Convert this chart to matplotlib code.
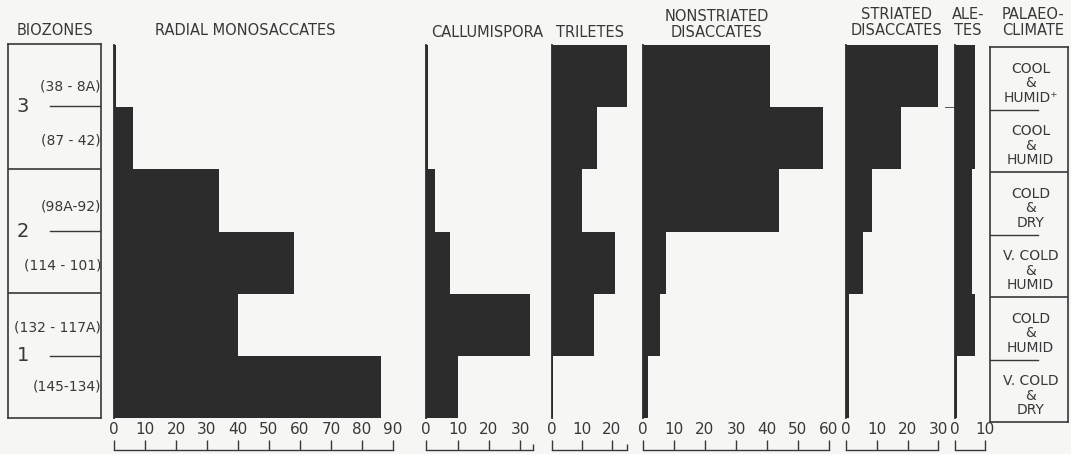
import matplotlib.pyplot as plt

# sample intervals, top (youngest) to bottom
intervals = ["(38 - 8A)", "(87 - 42)", "(98A-92)", "(114 - 101)", "(132 - 117A)", "(145-134)"]
biozones = ["3", "2", "1"]
climate = [
    "COOL\n&\nHUMID\u207a",
    "COOL\n&\nHUMID",
    "COLD\n&\nDRY",
    "V. COLD\n&\nHUMID",
    "COLD\n&\nHUMID",
    "V. COLD\n&\nDRY",
]

# percentages per interval
radial_monosaccates = [0.5, 6, 34, 58, 40, 86]
callumispora = [0.5, 0.5, 3, 7.5, 33, 10]
triletes = [26, 15, 10, 21, 14, 0.5]
nonstriated_disaccates = [41, 58, 44, 7.5, 5.5, 1.5]
striated_disaccates = [32, 18, 8.5, 5.5, 1, 1]
aletes = [6.5, 6.5, 5.5, 5.5, 6.5, 0.8]

panel_titles = [
    "RADIAL MONOSACCATES",
    "CALLUMISPORA",
    "TRILETES",
    "NONSTRIATED\nDISACCATES",
    "STRIATED\nDISACCATES",
    "ALE-\nTES",
]
panel_values = [radial_monosaccates, callumispora, triletes,
                nonstriated_disaccates, striated_disaccates, aletes]
scale_max = [90, 34, 25, 60, 30, 10]
scale_ticks = [list(range(0, 91, 10)), [0, 10, 20, 30], [0, 10, 20],
               list(range(0, 61, 10)), [0, 10, 20, 30], [0, 10]]

W, H = 1071, 454
BG = "#f6f6f4"
INK = "#383838"
BAR = "#2c2c2c"


def rect(left, top, width, height):
    return [left / W, 1 - (top + height) / H, width / W, height / H]


fig = plt.figure(figsize=(W / 100, H / 100), dpi=100, facecolor=BG)

# panel placement in pixels: left edge (zero) and pixels per unit
panel_left = [114, 426, 552, 643, 846, 955]
panel_scale = [3.1, 3.15, 3.0, 3.1, 3.08, 3.0]
title_x = [245, 487, 590, 717, 896, 968]
title_y = [38, 40, 40, 40, 38, 38]

top, bottom = 45, 418
rows = range(len(intervals))

for i, values in enumerate(panel_values):
    width = scale_max[i] * panel_scale[i]
    ax = fig.add_axes(rect(panel_left[i], top, width, bottom - top))
    ax.set_facecolor("none")
    ax.barh([r + 0.5 for r in rows], values, height=1.0, left=0,
            color=BAR, edgecolor="none")
    ax.set_xlim(0, scale_max[i])
    ax.set_ylim(len(intervals), 0)
    for side in ["top", "right"]:
        ax.spines[side].set_visible(False)
    ax.spines["left"].set_color(BAR)
    ax.spines["left"].set_linewidth(1.3)
    ax.spines["bottom"].set_position(("outward", 23))
    ax.spines["bottom"].set_color(INK)
    ax.spines["bottom"].set_linewidth(1.0)
    ax.spines["bottom"].set_bounds(0, scale_max[i])
    ax.set_yticks([])
    ax.set_xticks(scale_ticks[i])
    ax.set_xticklabels([str(t) for t in scale_ticks[i]])
    ax.tick_params(axis="x", direction="in", length=7, width=1.0,
                   color=INK, labelcolor=INK, labelsize=11, pad=-20)
    if scale_max[i] not in scale_ticks[i]:
        ax.set_xticks([scale_max[i]], minor=True)
        ax.tick_params(axis="x", which="minor", direction="in", length=4,
                       width=1.0, color=INK)
    fig.text(title_x[i] / W, 1 - title_y[i] / H, panel_titles[i],
             ha="center", va="bottom", fontsize=10.5, color=INK,
             linespacing=1.1)
    if i == 4:
        # boundary line running across to the aletes column
        ax.plot([values[0], (958 - panel_left[i]) / panel_scale[i]], [1, 1],
                color=INK, lw=0.6, clip_on=False)

# biozones column
bz = fig.add_axes(rect(8, 44, 93, 374))
bz.set_facecolor("none")
bz.set_xlim(0, 1)
bz.set_ylim(len(intervals), 0)
bz.set_xticks([])
bz.set_yticks([])
for s in bz.spines.values():
    s.set_color(INK)
    s.set_linewidth(1.2)
for j, zone in enumerate(biozones):
    mid = 2 * j + 1
    bz.plot([0.45, 1.0], [mid, mid], color=INK, lw=1.0)
    bz.text(0.16, mid, zone, ha="center", va="center", fontsize=14, color=INK)
    if j > 0:
        bz.axhline(2 * j, color=INK, lw=1.2)
label_offset = [0.68, 0.55, 0.6, 0.55, 0.55, 0.5]
for r, lab in enumerate(intervals):
    bz.text(1.0, r + label_offset[r], lab, ha="right", va="center",
            fontsize=10, color=INK)
fig.text(55 / W, 1 - 38 / H, "BIOZONES", ha="center", va="bottom",
         fontsize=10.5, color=INK)

# palaeoclimate column
pc = fig.add_axes(rect(990, 47, 78, 375))
pc.set_facecolor("none")
pc.set_xlim(0, 1)
pc.set_ylim(len(intervals), 0)
pc.set_xticks([])
pc.set_yticks([])
for s in pc.spines.values():
    s.set_color(INK)
    s.set_linewidth(1.2)
for r, txt in enumerate(climate):
    if r in (1, 3, 5):
        pc.plot([0, 0.62], [r, r], color=INK, lw=1.0)
    elif r > 0:
        pc.axhline(r, color=INK, lw=1.2)
    pc.text(0.52, r + 0.58, txt, ha="center", va="center", fontsize=10,
            color=INK, linespacing=1.05, multialignment="center")
fig.text(1033 / W, 1 - 38 / H, "PALAEO-\nCLIMATE", ha="center", va="bottom",
         fontsize=10.5, color=INK, linespacing=1.1)

fig.savefig("out.png", dpi=100, facecolor=BG)
